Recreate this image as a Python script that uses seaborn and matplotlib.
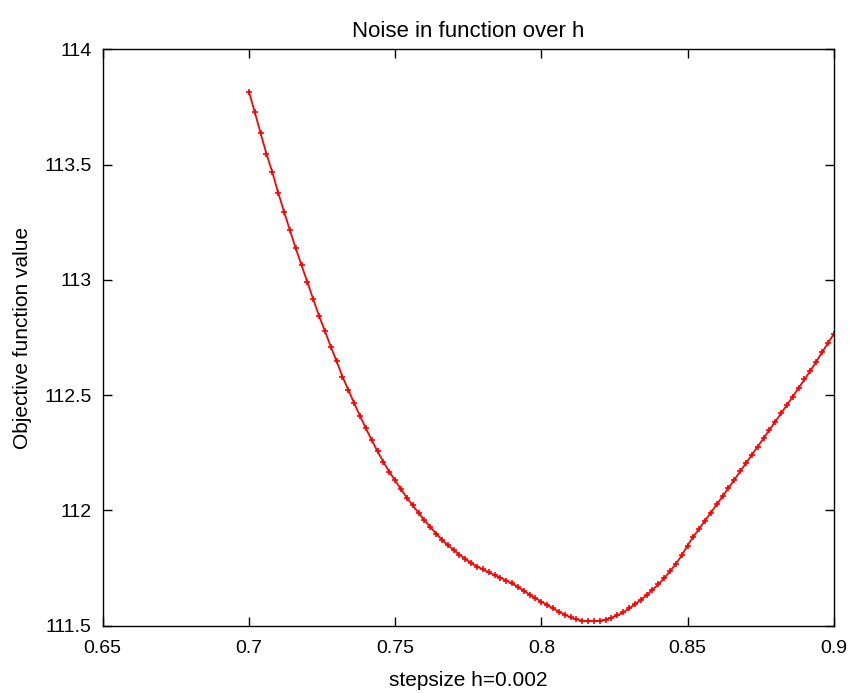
import numpy as np
import pandas as pd
import matplotlib
matplotlib.use("Agg")
import matplotlib.pyplot as plt
import seaborn as sns

# step sizes h (0.7 .. 0.9, step 0.002)
h_values = [
    0.700, 0.702, 0.704, 0.706, 0.708, 0.710, 0.712, 0.714, 0.716, 0.718,
    0.720, 0.722, 0.724, 0.726, 0.728, 0.730, 0.732, 0.734, 0.736, 0.738,
    0.740, 0.742, 0.744, 0.746, 0.748, 0.750, 0.752, 0.754, 0.756, 0.758,
    0.760, 0.762, 0.764, 0.766, 0.768, 0.770, 0.772, 0.774, 0.776, 0.778,
    0.780, 0.782, 0.784, 0.786, 0.788, 0.790, 0.792, 0.794, 0.796, 0.798,
    0.800, 0.802, 0.804, 0.806, 0.808, 0.810, 0.812, 0.814, 0.816, 0.818,
    0.820, 0.822, 0.824, 0.826, 0.828, 0.830, 0.832, 0.834, 0.836, 0.838,
    0.840, 0.842, 0.844, 0.846, 0.848, 0.850, 0.852, 0.854, 0.856, 0.858,
    0.860, 0.862, 0.864, 0.866, 0.868, 0.870, 0.872, 0.874, 0.876, 0.878,
    0.880, 0.882, 0.884, 0.886, 0.888, 0.890, 0.892, 0.894, 0.896, 0.898,
    0.900,
]

# objective function value
objective = [
    113.816, 113.727, 113.636, 113.546, 113.467, 113.378, 113.296, 113.216, 113.137, 113.063,
    112.990, 112.916, 112.843, 112.778, 112.710, 112.647, 112.580, 112.523, 112.465, 112.410,
    112.356, 112.305, 112.256, 112.210, 112.168, 112.130, 112.092, 112.056, 112.022, 111.990,
    111.958, 111.929, 111.900, 111.873, 111.850, 111.829, 111.808, 111.790, 111.772, 111.757,
    111.745, 111.732, 111.720, 111.709, 111.696, 111.684, 111.668, 111.652, 111.635, 111.619,
    111.605, 111.590, 111.576, 111.561, 111.548, 111.537, 111.528, 111.522, 111.520, 111.520,
    111.522, 111.527, 111.535, 111.545, 111.558, 111.575, 111.593, 111.612, 111.633, 111.655,
    111.679, 111.706, 111.736, 111.768, 111.805, 111.848, 111.886, 111.921, 111.956, 111.991,
    112.026, 112.061, 112.097, 112.133, 112.169, 112.205, 112.241, 112.277, 112.313, 112.349,
    112.385, 112.421, 112.457, 112.494, 112.531, 112.568, 112.605, 112.645, 112.685, 112.725,
    112.765,
]

x_ticks = [0.65, 0.7, 0.75, 0.8, 0.85, 0.9]
x_tick_labels = ["0.65", "0.7", "0.75", "0.8", "0.85", "0.9"]
y_ticks = [111.5, 112, 112.5, 113, 113.5, 114]
y_tick_labels = ["111.5", "112", "112.5", "113", "113.5", "114"]

df = pd.DataFrame({"h": h_values, "value": objective})

sns.set_style("ticks")
plt.rcParams["font.family"] = ["Liberation Sans", "DejaVu Sans"]
plt.rcParams["text.color"] = "black"
plt.rcParams["axes.labelcolor"] = "black"

fig = plt.figure(figsize=(8.49, 6.93), dpi=100)
ax = fig.add_axes([0.121, 0.097, 0.861, 0.832])

sns.lineplot(data=df, x="h", y="value", color="#ff0000", linewidth=1.3,
             marker="+", markersize=5, markeredgewidth=1.2,
             markeredgecolor="#ff0000", ax=ax)

ax.set_xlim(0.65, 0.9)
ax.set_ylim(111.5, 114)
ax.set_xticks(x_ticks)
ax.set_xticklabels(x_tick_labels)
ax.set_yticks(y_ticks)
ax.set_yticklabels(y_tick_labels)

ax.tick_params(direction="in", length=6.5, width=1, colors="black",
               top=True, right=True, labelsize=14)
ax.tick_params(axis="x", pad=10)
ax.tick_params(axis="y", pad=8)
for side in ["top", "bottom", "left", "right"]:
    ax.spines[side].set_visible(True)
    ax.spines[side].set_color("black")
    ax.spines[side].set_linewidth(1)

ax.set_title("Noise in function over h", fontsize=16, pad=9, color="black")
ax.set_xlabel("stepsize h=0.002", fontsize=15, labelpad=10)
ax.set_ylabel("Objective function value", fontsize=15, labelpad=9)
ax.grid(False)
ax.set_facecolor("white")

fig.savefig("out.png", dpi=100, facecolor="white")
